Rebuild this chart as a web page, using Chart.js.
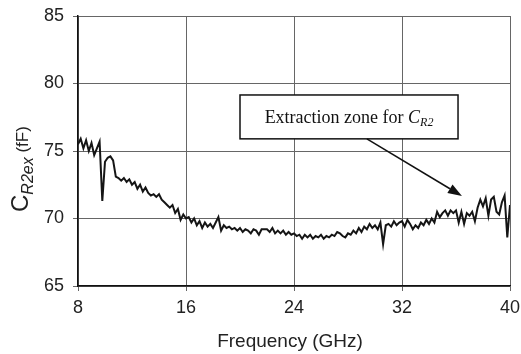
<!DOCTYPE html>
<html>
<head>
<meta charset="utf-8">
<script src="https://cdn.jsdelivr.net/npm/chart.js"></script>
<style>
html,body{margin:0;padding:0;background:#fff;}
#wrap{width:521px;height:354px;position:relative;}
</style>
</head>
<body>
<div id="wrap"><canvas id="c" width="521" height="354"></canvas></div>
<script>
// Frequency axis (GHz), 0.2 GHz steps from 8 to 40
const freqStart = 8;
const freqStep = 0.2;
const xTicks = [8, 16, 24, 32, 40];
const yTicks = [65, 70, 75, 80, 85];
// C_R2ex values (fF)
const cr2ex = [
  75.5, 75.9, 75.2, 75.8, 75.0,
  75.6, 74.7, 75.2, 75.7, 71.3,
  74.2, 74.5, 74.6, 74.3, 73.1,
  73.0, 72.8, 73.0, 72.7, 72.9,
  72.5, 72.7, 72.2, 72.5, 72.0,
  72.3, 71.9, 71.7, 71.8, 71.6,
  71.8, 71.4, 71.2, 71.0, 70.8,
  71.0, 70.4, 70.7, 69.9, 70.3,
  70.0, 70.1, 69.7, 70.0, 69.5,
  69.8, 69.3, 69.7, 69.4, 69.6,
  69.3, 69.7, 70.1, 69.1, 69.5,
  69.3, 69.4, 69.2, 69.3, 69.1,
  69.3, 69.0, 69.2, 69.1, 68.9,
  69.2, 69.1, 68.8, 69.2, 69.2,
  69.2, 69.0, 69.3, 68.9, 69.1,
  68.9, 69.1, 68.8, 69.0, 68.8,
  68.9, 68.7, 68.8, 68.5, 68.8,
  68.6, 68.8, 68.5, 68.7, 68.6,
  68.8, 68.5, 68.7, 68.6, 68.8,
  68.7, 69.0, 68.9, 68.7, 68.6,
  68.9, 68.8, 69.1, 68.9, 69.3,
  69.0, 69.4, 69.2, 69.6, 69.3,
  69.5, 69.2, 69.7, 68.1, 69.5,
  69.6, 69.4, 69.8, 69.5, 69.7,
  69.8, 69.4, 69.9, 69.6, 69.2,
  69.5, 69.3, 69.7, 69.5, 69.9,
  69.6, 70.0, 69.7, 70.5, 70.1,
  70.4, 70.6, 70.2, 70.6, 70.4,
  70.6, 69.7, 70.5, 69.6, 70.4,
  70.2, 70.5, 69.8, 70.8, 71.4,
  70.9, 71.5, 70.2, 71.4, 71.6,
  70.5, 70.3, 71.2, 71.7, 68.6,
  71.0
];
const points = cr2ex.map((v, i) => ({x: +(freqStart + i * freqStep).toFixed(2), y: v}));

const FONT = "'Liberation Sans', Arial, Helvetica, sans-serif";
const SERIF = "'Liberation Serif', 'Times New Roman', serif";
const TXT = '#222';

const overlay = {
  id: 'overlay',
  afterDraw(chart) {
    const ctx = chart.ctx;
    const xs = chart.scales.x, ys = chart.scales.y;
    ctx.save();
    // Y axis title: C_R2ex (fF), rotated
    ctx.translate(28, 212);
    ctx.rotate(-Math.PI / 2);
    ctx.fillStyle = TXT;
    ctx.textBaseline = 'alphabetic';
    ctx.textAlign = 'left';
    ctx.font = '24px ' + FONT;
    ctx.fillText('C', 0, 0);
    let w = ctx.measureText('C').width;
    ctx.font = 'italic 16px ' + FONT;
    ctx.fillText('R2ex', w, 5);
    w += ctx.measureText('R2ex').width;
    ctx.font = '17px ' + FONT;
    ctx.fillText(' (fF)', w, 0);
    ctx.restore();

    // X axis title
    ctx.save();
    ctx.fillStyle = TXT;
    ctx.font = '19px ' + FONT;
    ctx.textAlign = 'center';
    ctx.textBaseline = 'middle';
    ctx.fillText('Frequency (GHz)', (xs.left + xs.right) / 2 - 4, 342);
    ctx.restore();

    // Annotation box
    const bx0 = xs.getPixelForValue(20.0), bx1 = xs.getPixelForValue(36.15);
    const by0 = ys.getPixelForValue(79.15), by1 = ys.getPixelForValue(75.9);
    ctx.save();
    ctx.fillStyle = '#fff';
    ctx.fillRect(bx0, by0, bx1 - bx0, by1 - by0);
    ctx.strokeStyle = '#111';
    ctx.lineWidth = 1.5;
    ctx.strokeRect(bx0, by0, bx1 - bx0, by1 - by0);
    // text
    const t1 = 'Extraction zone for ';
    ctx.font = '18px ' + SERIF;
    const w1 = ctx.measureText(t1).width;
    ctx.font = 'italic 18px ' + SERIF;
    const w2 = ctx.measureText('C').width;
    ctx.font = 'italic 12px ' + SERIF;
    const w3 = ctx.measureText('R2').width;
    let tx = (bx0 + bx1) / 2 - (w1 + w2 + w3) / 2;
    const ty = (by0 + by1) / 2 + 6;
    ctx.fillStyle = '#111';
    ctx.textBaseline = 'alphabetic';
    ctx.font = '18px ' + SERIF;
    ctx.fillText(t1, tx, ty);
    tx += w1;
    ctx.font = 'italic 18px ' + SERIF;
    ctx.fillText('C', tx, ty);
    tx += w2;
    ctx.font = 'italic 12px ' + SERIF;
    ctx.fillText('R2', tx, ty + 3);

    // Arrow
    const ax0 = xs.getPixelForValue(29.4), ay0 = by1;
    const ax1 = xs.getPixelForValue(36.44), ay1 = ys.getPixelForValue(71.67);
    const ang = Math.atan2(ay1 - ay0, ax1 - ax0);
    const hl = 14, hw = 5;
    ctx.strokeStyle = '#111';
    ctx.lineWidth = 1.5;
    ctx.beginPath();
    ctx.moveTo(ax0, ay0);
    ctx.lineTo(ax1 - hl * Math.cos(ang), ay1 - hl * Math.sin(ang));
    ctx.stroke();
    ctx.fillStyle = '#111';
    ctx.beginPath();
    ctx.moveTo(ax1, ay1);
    ctx.lineTo(ax1 - hl * Math.cos(ang) + hw * Math.sin(ang), ay1 - hl * Math.sin(ang) - hw * Math.cos(ang));
    ctx.lineTo(ax1 - hl * Math.cos(ang) - hw * Math.sin(ang), ay1 - hl * Math.sin(ang) + hw * Math.cos(ang));
    ctx.closePath();
    ctx.fill();
    ctx.restore();
  }
};

new Chart(document.getElementById('c'), {
  type: 'line',
  data: {
    datasets: [{
      data: points,
      borderColor: '#151515',
      borderWidth: 2,
      pointRadius: 0,
      tension: 0,
      fill: false
    }]
  },
  options: {
    responsive: false,
    animation: false,
    layout: {padding: {left: 0, right: 11, top: 16, bottom: 0}},
    plugins: {legend: {display: false}, tooltip: {enabled: false}},
    scales: {
      x: {
        type: 'linear',
        min: 8, max: 40,
        afterBuildTicks(s) { s.ticks = xTicks.map(v => ({value: v})); },
        afterFit(s) { s.height = 68; s.paddingLeft = 0; s.paddingRight = 0; },
        ticks: {color: TXT, font: {size: 18, family: FONT}, padding: 6, maxRotation: 0},
        grid: {color: '#666', lineWidth: 1, tickLength: 5, drawTicks: true},
        border: {color: '#111', width: 1.5}
      },
      y: {
        min: 65, max: 85,
        afterBuildTicks(s) { s.ticks = yTicks.map(v => ({value: v})); },
        afterFit(s) { s.width = 78; s.paddingTop = 0; s.paddingBottom = 0; },
        ticks: {color: TXT, font: {size: 18, family: FONT}, padding: 9},
        grid: {color: '#666', lineWidth: 1, tickLength: 5, drawTicks: true},
        border: {color: '#111', width: 1.5}
      }
    }
  },
  plugins: [overlay]
});
</script>
</body>
</html>
